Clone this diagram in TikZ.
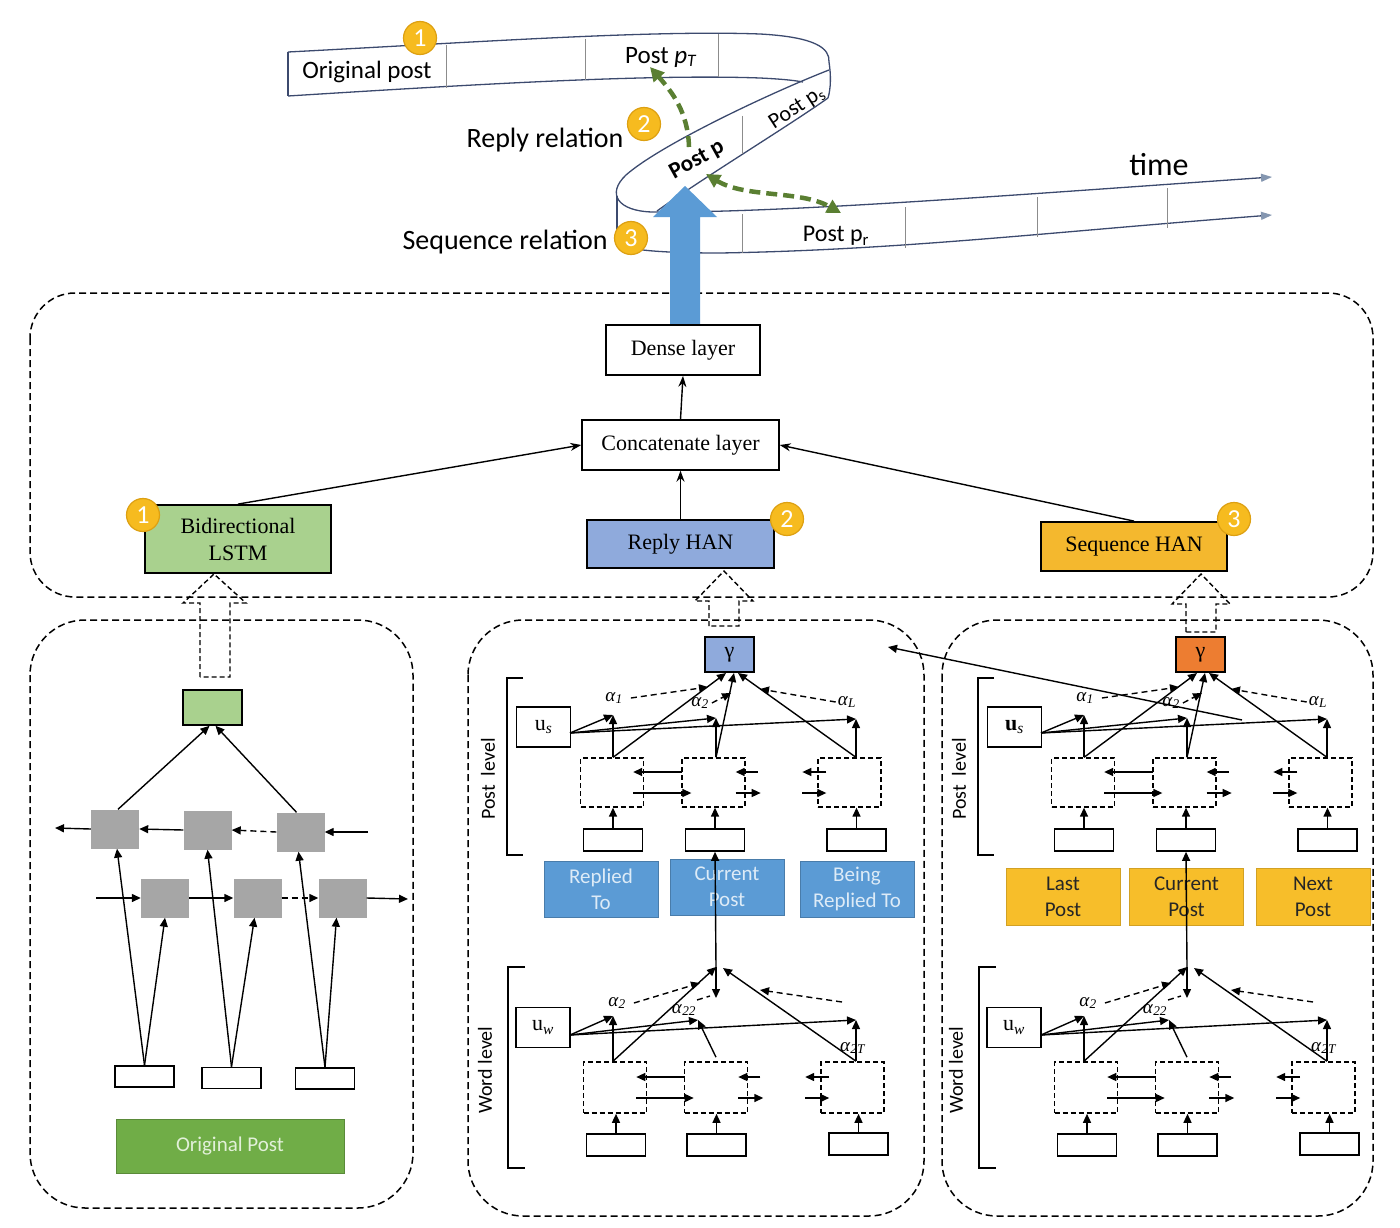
\documentclass[tikz,border=0pt]{standalone}
\usepackage{fontspec}
\setmainfont{Liberation Serif}
\newfontfamily\calib{Carlito}
\usetikzlibrary{arrows.meta,calc}
\newcommand{\myfs}[1]{\fontsize{#1}{#1}\selectfont}
\newcommand{\alf}[1]{\textit{α}\textsubscript{\textit{#1}}}
\definecolor{ribc}{HTML}{3C4A6E}
\definecolor{sepc}{HTML}{8C8C8C}
\definecolor{tarc}{HTML}{8496B0}
\definecolor{bluA}{HTML}{5B9BD5}
\definecolor{grnA}{HTML}{5A7F32}
\definecolor{badgef}{HTML}{F6BB1F}
\definecolor{badged}{HTML}{DDA012}
\definecolor{lstmg}{HTML}{A9D18E}
\definecolor{replyb}{HTML}{8FAADC}
\definecolor{seqg}{HTML}{F4B82E}
\definecolor{orng}{HTML}{ED7D31}
\definecolor{labb}{HTML}{5B9BD5}
\definecolor{labbt}{HTML}{DDEBF7}
\definecolor{laby}{HTML}{F7BE2A}
\definecolor{opg}{HTML}{70AD47}
\definecolor{opt}{HTML}{E2F0D9}
\definecolor{grayb}{HTML}{A6A6A6}

\newcommand{\bilinks}[3]{%
  \draw[arr] ($(#2.west)+(1,-10.5)$) -- ($(#1.east)+(-11,-10.5)$);
  \draw[arr] ($(#1.east)+(-11,10.5)$) -- ($(#2.west)+(10,10.5)$);
  \draw[arr] ($(#2.east)+(12,-10.5)$) -- ($(#2.east)+(-10,-10.5)$);
  \draw[arr] ($(#2.east)+(-10,10.5)$) -- ($(#2.east)+(15,10.5)$);
  \draw[arr] ($(#3.west)+(9,-10.5)$) -- ($(#3.west)+(-15,-10.5)$);
  \draw[arr] ($(#3.west)+(-15,10.5)$) -- ($(#3.west)+(9,10.5)$);
}

\newcommand{\hanpanel}[4]{%
\begin{scope}[xshift=#2]
  % ---- post level
  \draw[lw] (523,678) -- (507,678) -- (507,855) -- (523,855);
  \node[rotate=90,font=\calib\myfs{20}] (#1pl) at (488,779) {Post\hspace{0.45em}level};
  \node[topbox,fill=#3] (#1v) at (729.5,654.5) {γ};
  \node[ubox] (#1us) at (543.5,727) {#4\textsubscript{\textit{s}}};
  \node[dbox] (#1d1) at (612,782.5) {};
  \node[dbox] (#1d2) at (713.5,782.5) {};
  \node[dbox] (#1d3) at (849.5,782.5) {};
  \node[ibox] (#1i1) at (613,840) {};
  \node[ibox] (#1i2) at (715,840) {};
  \node[ibox] (#1i3) at (856.5,840) {};
  \coordinate (#1a1) at (613,715);
  \coordinate (#1a2) at (716,718);
  \coordinate (#1aL) at (856,719);
  \coordinate (#1uo) at (570,733);
  \coordinate (#1vb1) at (726,673);
  \coordinate (#1vb2) at (734,673);
  \coordinate (#1vb3) at (738,673);
  \coordinate (#1t1) at (708,687);
  \coordinate (#1t2) at (731,693);
  \coordinate (#1t3) at (760,689);
  \node[alab] (#1la1) at (614,698) {\alf{1}};
  \node[alab] (#1la2) at (700,703) {\alf{2}};
  \node[alab] (#1laL) at (847,702) {\alf{L}};
  \draw[arr] (#1i1.north) -- (#1i1.north |- #1d1.south);
  \draw[arr] (#1i2.north) -- (#1i2.north |- #1d2.south);
  \draw[arr] (#1i3.north) -- (#1i3.north |- #1d3.south);
  \bilinks{#1d1}{#1d2}{#1d3}
  \draw[arr] (#1a1 |- #1d1.north) -- (#1a1);
  \draw[arr] (#1a2 |- #1d2.north) -- (#1a2);
  \draw[arr] (#1aL |- #1d3.north) -- (#1aL);
  \draw[arr] (#1uo) -- (#1a1);
  \draw[arr] (#1uo) -- (#1a2);
  \draw[arr] (#1uo) -- (#1aL);
  \draw[arr] (#1a1 |- #1d1.north) -- (#1vb1);
  \draw[arr] (#1a2 |- #1d2.north) -- (#1vb2);
  \draw[arr] (#1aL |- #1d3.north) -- (#1vb3);
  \draw[darr] ([xshift=8pt]#1la1.east) -- (#1t1);
  \draw[darr] ([xshift=3pt]#1la2.east) -- (#1t2);
  \draw[darr] ([xshift=-2pt]#1laL.west) -- (#1t3);
  % ---- word level
  \draw[lw] (525,967) -- (508,967) -- (508,1168) -- (525,1168);
  \node[rotate=90,font=\calib\myfs{20}] (#1wl) at (485,1070) {Word level};
  \node[ubox] (#1uw) at (543,1027.5) {u\textsubscript{\textit{w}}};
  \node[dboxw] (#1e1) at (615,1087.5) {};
  \node[dboxw] (#1e2) at (716,1087.5) {};
  \node[dboxw] (#1e3) at (852.5,1087.5) {};
  \node[ibox] (#1j1) at (616,1145) {};
  \node[ibox] (#1j2) at (716.5,1145) {};
  \node[ibox] (#1j3) at (858.5,1144) {};
  \coordinate (#1w) at (716,967);
  \coordinate (#1wr) at (723,968);
  \coordinate (#1wd) at (716,998);
  \coordinate (#1b1) at (613,1016);
  \coordinate (#1b2) at (698,1020);
  \coordinate (#1bT) at (856,1020);
  \coordinate (#1uwo) at (570,1035);
  \coordinate (#1s1) at (700,983);
  \coordinate (#1s3) at (760,990);
  \coordinate (#1s3s) at (842,1002);
  \coordinate (#1s2s) at (697,1000);
  \coordinate (#1s2e) at (710,996);
  \node[alab] (#1lb1) at (617,1003) {\alf{2}};
  \node[alab] (#1lb2) at (684,1010) {\alf{22}};
  \node[alab] (#1lbT) at (853,1048) {\alf{2T}};
  \draw[arr] (#1j1.north) -- (#1j1.north |- #1e1.south);
  \draw[arr] (#1j2.north) -- (#1j2.north |- #1e2.south);
  \draw[arr] (#1j3.north) -- (#1j3.north |- #1e3.south);
  \bilinks{#1e1}{#1e2}{#1e3}
  \draw[arr] (#1b1 |- #1e1.north) -- (#1b1);
  \draw[arr] ([yshift=4pt]#1e2.north) -- (#1b2);
  \draw[arr] (#1bT |- #1e3.north) -- (#1bT);
  \draw[arr] (#1uwo) -- (#1b1);
  \draw[arr] (#1uwo) -- (#1b2);
  \draw[arr] (#1uwo) -- (#1bT);
  \draw[arr] (#1b1 |- #1e1.north) -- (#1w);
  \draw[arr] (#1bT |- #1e3.north) -- (#1wr);
  \draw[arr] (#1w) -- (#1wd);
  \draw[darr] ([xshift=8pt]#1lb1.east) -- (#1s1);
  \draw[dsh] (#1s2s) -- (#1s2e);
  \draw[darr] (#1s3s) -- (#1s3);
  \draw[arr] (#1w) -- (#1i2.south);
\end{scope}}

\begin{document}
\begin{tikzpicture}[x=1pt,y=-1pt,
  lw/.style={line width=1.4pt},
  arr/.style={line width=1.4pt,-{Triangle[length=9pt,width=8pt]}},
  sarr/.style={line width=1.4pt,-{Stealth[length=11pt,width=8pt]}},
  pnl/.style={line width=1.5pt,dash pattern=on 7pt off 4pt,rounded corners=55pt},
  dbox/.style={draw,line width=1.3pt,dash pattern=on 5pt off 3pt,minimum width=63pt,minimum height=49pt,inner sep=0pt},
  dboxw/.style={dbox,minimum height=51pt,line width=1.6pt},
  ibox/.style={draw,line width=1.6pt,minimum width=59pt,minimum height=22pt,inner sep=0pt},
  ubox/.style={draw,line width=1.6pt,minimum width=54pt,minimum height=40pt,inner sep=0pt,font=\myfs{22}},
  topbox/.style={draw,line width=1.6pt,minimum width=49pt,minimum height=35pt,inner sep=0pt,font=\myfs{22}},
  alab/.style={inner sep=0pt,font=\myfs{19}},
  dsh/.style={line width=1.4pt,dash pattern=on 6pt off 4pt},
  darr/.style={dsh,-{Triangle[length=9pt,width=8pt]}},
  hol/.style={line width=1.4pt,dash pattern=on 5pt off 3pt},
  rib/.style={line width=1.3pt,draw=ribc},
  sep/.style={line width=1pt,draw=sepc},
  tarr/.style={rib,-{Triangle[length=11pt,width=8pt,color=tarc]}},
  garr/.style={draw=grnA,line width=4.5pt,dash pattern=on 11pt off 6pt},
  badge/.style={circle,fill=badgef,draw=badged,line width=1.2pt,minimum size=33pt,inner sep=0pt,text=white,font=\calib\myfs{26}},
  lbox/.style={draw,line width=1.8pt,inner sep=0pt,font=\myfs{22}},
  gbox/.style={fill=grayb,minimum width=48pt,minimum height=39pt,inner sep=0pt},
  bluelab/.style={fill=labb,draw=labb!80!black,line width=1pt,minimum width=114pt,minimum height=56pt,inner sep=0pt,align=center,text=labbt,font=\calib\fontsize{21}{26}\selectfont},
  yellab/.style={fill=laby,draw=laby!85!black,line width=1pt,minimum width=114pt,minimum height=57pt,inner sep=0pt,align=center,text=black!85,font=\calib\fontsize{21}{26}\selectfont}
]
\useasboundingbox (0,0) rectangle (1400,1228);

% ================= helix ribbon =================
\draw[rib] (288,52) .. controls (480,42) and (650,30) .. (760,34) .. controls (815,37) and (830,48) .. (829,62) .. controls (831,75) and (831,88) .. (828,98);
\draw[rib] (288,52) -- (288,96);
\draw[rib] (288,96) .. controls (480,84) and (650,74) .. (760,78) .. controls (780,79) and (792,80) .. (803,82);
\draw[rib] (829,70) .. controls (770,93) and (660,145) .. (626,175) .. controls (606,194) and (618,211) .. (652,212);
\draw[rib] (828,98) .. controls (790,125) and (700,180) .. (657,211);
\draw[tarr] (652,212) .. controls (780,213) and (1000,196) .. (1272,177);
\draw[rib] (617,196) -- (617,243);
\draw[tarr] (617,243) .. controls (625,250) and (660,253) .. (720,253) .. controls (900,250) and (1050,232) .. (1272,215);
\draw[sep] (446,45) -- (446,88);
\draw[sep] (585,39) -- (585,80);
\draw[sep] (718,34) -- (718,77);
\draw[sep] (742,116) -- (742,154);
\draw[sep] (742,214) -- (742,253);
\draw[sep] (905,207) -- (905,248);
\draw[sep] (1037,197) -- (1037,237);
\draw[sep] (1167,188) -- (1167,228);

\node[font=\calib\myfs{25}] (tOrig) at (367,72) {Original post};
\node[font=\calib\myfs{25}] (tPT) at (661,57) {Post \textit{p}\textsubscript{\textit{T}}};
\node[font=\calib\myfs{22},rotate=33,inner sep=0pt] (tPs) at (797,108) {Post p\textsubscript{s}};
\node[font=\calib\bfseries\myfs{23},rotate=29,inner sep=0pt] (tP) at (697,160) {Post p};
\node[font=\calib\myfs{24}] (tPr) at (836,236) {Post p\textsubscript{r}};
\node[font=\calib\myfs{28}] (tRR) at (545,140) {Reply relation};
\node[font=\calib\myfs{28}] (tSR) at (505,242) {Sequence relation};
\node[font=\calib\myfs{32}] (tTime) at (1159,165) {time};

\coordinate (gA) at (689,147);
\coordinate (gB) at (650,67);
\coordinate (gC) at (706,174);
\coordinate (gD) at (841,213);
\draw[garr,-{Triangle[length=14pt,width=14pt]}] (gA) .. controls (688,112) and (672,92) .. (gB);
\draw[garr,{Triangle[length=14pt,width=14pt]}-{Triangle[length=14pt,width=14pt]}] (gC) .. controls (745,198) and (800,190) .. (gD);

\node[badge] (bt1) at (420,38) {1};
\node[badge] (bt2) at (644,124) {2};
\node[badge] (bt3) at (631,238) {3};

% ================= middle section =================
\draw[pnl,rounded corners=45pt] (30,293) rectangle (1373,597);
\fill[bluA] (670,325) -- (670,217) -- (653,217) -- (685,186) -- (717,217) -- (700,217) -- (700,325) -- cycle;

\node[lbox,minimum width=154pt,minimum height=50pt] (dense) at (683,350) {Dense layer};
\node[lbox,line width=1.4pt,minimum width=197pt,minimum height=50pt] (concat) at (680.5,445) {Concatenate layer};
\node[lbox,fill=lstmg,minimum width=186pt,minimum height=68pt,align=center,font=\fontsize{22}{27}\selectfont] (bilstm) at (238,539) {Bidirectional\\LSTM};
\node[lbox,fill=replyb,minimum width=187pt,minimum height=48pt] (rhan) at (680.5,544) {Reply HAN};
\node[lbox,fill=seqg,minimum width=186pt,minimum height=49pt] (shan) at (1134,546.5) {Sequence HAN};
\draw[sarr] (bilstm.north) -- (concat.west);
\draw[sarr] (rhan.north) -- (concat.south);
\draw[sarr] (shan.north) -- (concat.east);
\draw[sarr] (concat.north) -- (dense.south);
\node[badge] (bm1) at (143,515) {1};
\node[badge] (bm2) at (787,519) {2};
\node[badge] (bm3) at (1234,519) {3};

% hollow dashed arrows
\draw[hol] (200,677) -- (200,603) -- (183,603) -- (214,574) -- (246,603) -- (230,603) -- (230,677) -- cycle;
\draw[hol] (709,626) -- (709,601) -- (695,601) -- (724,571) -- (753,601) -- (739,601) -- (739,626) -- cycle;
\draw[hol] (1186,632) -- (1186,604) -- (1172,604) -- (1201,574) -- (1230,604) -- (1216,604) -- (1216,632) -- cycle;

% ================= lower panels =================
\draw[pnl] (30,620) rectangle (413,1208);
\draw[pnl] (468,620) rectangle (924,1216);
\draw[pnl] (942,620) rectangle (1373,1216);

% ---- left panel
\node[draw,line width=1.6pt,fill=lstmg,minimum width=59pt,minimum height=35pt,inner sep=0pt] (lg) at (212.5,707.5) {};
\node[gbox] (g1) at (115,829) {};
\node[gbox] (g2) at (207.5,830) {};
\node[gbox] (g3) at (300.5,832) {};
\node[gbox] (h1) at (165,898) {};
\node[gbox] (h2) at (257.5,898) {};
\node[gbox] (h3) at (342.5,898) {};
\node[ibox,minimum height=21pt] (x1) at (144.5,1076.5) {};
\node[ibox,minimum height=21pt] (x2) at (231.5,1078) {};
\node[ibox,minimum height=21pt] (x3) at (325,1078.5) {};
\node[fill=opg,draw=opg!80!black,line width=1pt,minimum width=228pt,minimum height=54pt,inner sep=0pt,text=opt,font=\calib\myfs{21}] (op) at (230,1146) {Original Post};
\coordinate (lL) at (55,828);
\coordinate (rin) at (368,832);
\coordinate (lin) at (96,898);
\coordinate (rout) at (408,899);
\draw[arr] (rin) -- (g3.east);
\draw[arr,dash pattern=on 6pt off 4pt] (g3.west) -- (g2.east);
\draw[arr] (g2.west) -- (g1.east);
\draw[arr] (g1.west) -- (lL);
\draw[arr] (lin) -- (h1.west);
\draw[arr] (h1.east) -- (h2.west);
\draw[arr,dash pattern=on 6pt off 4pt] (h2.east) -- (h3.west);
\draw[arr] (h3.east) -- (rout);
\draw[arr] (x1.north) -- ([xshift=2pt]g1.south);
\draw[arr] (x1.north) -- (h1.south);
\draw[arr] (x2.north) -- (g2.south);
\draw[arr] (x2.north) -- ([xshift=-3pt]h2.south);
\draw[arr] (x3.north) -- ([xshift=-2pt]g3.south);
\draw[arr] (x3.north) -- ([xshift=-6pt]h3.south);
\draw[arr] ([xshift=3pt]g1.north) -- ([xshift=-3pt]lg.south);
\draw[arr] ([xshift=-4pt]g3.north) -- ([xshift=3pt]lg.south);

% ---- labels of the HAN panels
\node[bluelab] (lrt) at (601,889) {Replied\\To};
\node[bluelab] (lcp) at (727,887) {Current\\Post};
\node[bluelab] (lbrt) at (857,889) {Being\\Replied To};
\node[yellab] (llp) at (1063,896.5) {Last\\Post};
\node[yellab] (lcp2) at (1186.5,896.5) {Current\\Post};
\node[yellab] (lnp) at (1313,896.5) {Next\\Post};

\hanpanel{M}{0pt}{replyb}{u}
\hanpanel{R}{471pt}{orng}{\textbf{u}}

\coordinate (lnS) at (1242,720);
\coordinate (lnE) at (888,647);
\draw[arr] (lnS) -- (lnE);
\end{tikzpicture}
\end{document}
